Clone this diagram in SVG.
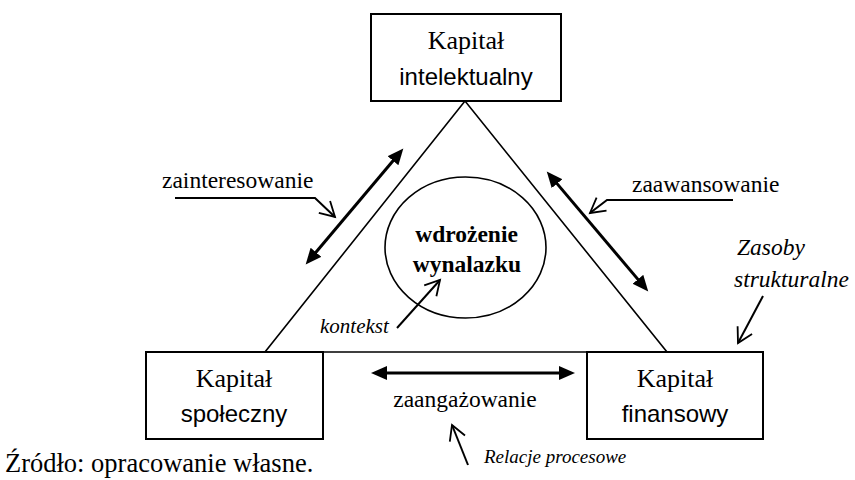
<svg xmlns="http://www.w3.org/2000/svg" width="855" height="480" viewBox="0 0 855 480">
<style>
.box{fill:#fff;stroke:#000;stroke-width:2}
.tri{fill:none;stroke:#000;stroke-width:1.6}
text{fill:#000}
.dbl{fill:none;stroke:#000;stroke-width:3;marker-start:url(#fh);marker-end:url(#fh)}
.call{fill:none;stroke:#000;stroke-width:2;marker-end:url(#oh)}
</style>
<defs>
<marker id="fh" markerUnits="userSpaceOnUse" markerWidth="17" markerHeight="15" refX="4" refY="7" orient="auto-start-reverse" viewBox="0 0 17 14">
<path d="M0,0 L16,7 L0,14 z" fill="#000"/>
</marker>
<marker id="oh" markerUnits="userSpaceOnUse" markerWidth="20" markerHeight="20" refX="16" refY="9" orient="auto" viewBox="-2 -2 20 22">
<path d="M0,0 L16,9 L0,18" fill="none" stroke="#000" stroke-width="2"/>
</marker>
</defs>
<rect width="855" height="480" fill="#fff"/>

<g id="triangle">
<polygon class="tri" points="465,101 265,352 667,352"/>
</g>

<g id="center" font-family="Liberation Serif, Times New Roman, serif">
<ellipse cx="465.5" cy="247.5" rx="80.5" ry="70.5" fill="none" stroke="#000" stroke-width="1.6"/>
<text font-size="23.5" font-weight="bold" x="466.5" y="242" text-anchor="middle">wdrożenie</text>
<text font-size="23.5" font-weight="bold" x="467" y="272" text-anchor="middle">wynalazku</text>
</g>

<g id="intelektualny">
<rect class="box" x="371" y="14" width="190" height="87"/>
<text font-family="Liberation Serif, Times New Roman, serif" font-size="26" x="466" y="49" text-anchor="middle">Kapitał</text>
<text font-family="Liberation Sans, Arial, sans-serif" font-size="24" x="466" y="85" text-anchor="middle">intelektualny</text>
</g>

<g id="spoleczny">
<rect class="box" x="146" y="352" width="177" height="87"/>
<text font-family="Liberation Serif, Times New Roman, serif" font-size="26" x="234" y="387" text-anchor="middle">Kapitał</text>
<text font-family="Liberation Sans, Arial, sans-serif" font-size="24" x="234" y="422" text-anchor="middle">społeczny</text>
</g>

<g id="finansowy">
<rect class="box" x="587" y="352" width="176" height="87"/>
<text font-family="Liberation Serif, Times New Roman, serif" font-size="26" x="675" y="387" text-anchor="middle">Kapitał</text>
<text font-family="Liberation Sans, Arial, sans-serif" font-size="24" x="675" y="422" text-anchor="middle">finansowy</text>
</g>

<g id="connectors">
<line class="dbl" x1="313.4" y1="255.3" x2="395.6" y2="157.7"/>
<line class="dbl" x1="554.5" y1="180.6" x2="640.5" y2="282.4"/>
<line class="dbl" x1="383" y1="373" x2="563" y2="373"/>
<polyline class="call" points="175,198 315,198 335,217"/>
<polyline class="call" points="733,200 607,200 590,213"/>
<line class="call" x1="763" y1="296" x2="738" y2="343"/>
<line class="call" x1="397" y1="328" x2="440" y2="280"/>
<line class="call" x1="468" y1="465" x2="452" y2="425"/>
</g>

<g id="labels" font-family="Liberation Serif, Times New Roman, serif">
<text font-size="23.5" x="162" y="188">zainteresowanie</text>
<text font-size="23.5" x="632" y="192">zaawansowanie</text>
<text font-size="23.5" font-style="italic" x="737" y="255">Zasoby</text>
<text font-size="23.5" font-style="italic" x="734" y="287">strukturalne</text>
<text font-size="21" font-style="italic" x="320" y="333">kontekst</text>
<text font-size="23.5" x="465" y="407" text-anchor="middle">zaangażowanie</text>
<text font-size="19" font-style="italic" x="484" y="463">Relacje procesowe</text>
<text font-size="26.5" x="5" y="472">Źródło: opracowanie własne.</text>
</g>
</svg>
